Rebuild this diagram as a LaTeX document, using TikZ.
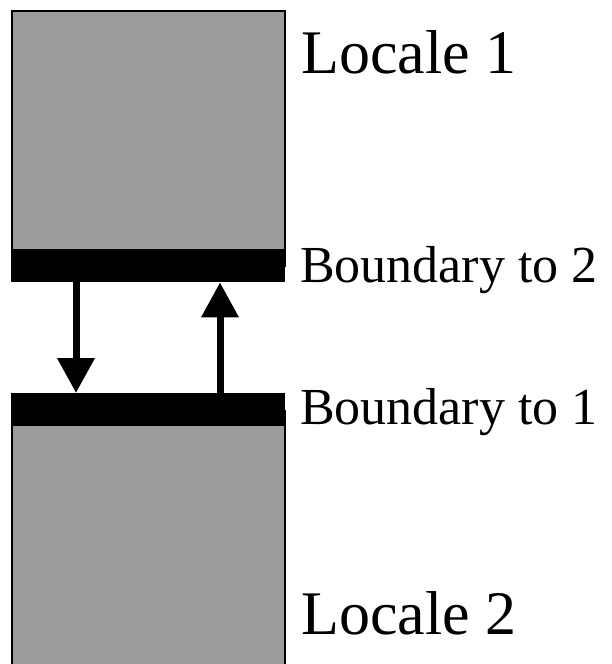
\documentclass[tikz,border=0pt]{standalone}
\usepackage{fontspec}
\setmainfont{Liberation Serif}
\usetikzlibrary{arrows.meta}
\definecolor{localegray}{RGB}{156,156,156}
\tikzstyle{locale}=[rectangle,draw=black,fill=localegray,line width=1.5pt,minimum width=273pt,inner sep=0pt,anchor=north west]
\tikzstyle{boundary}=[rectangle,fill=black,minimum width=274pt,minimum height=33pt,inner sep=0pt,anchor=north west]
\tikzstyle{crossing}=[draw,line width=7pt,-{Triangle[width=36pt,length=35pt]}]
\tikzstyle{big label}=[font=\fontsize{62}{62}\selectfont,anchor=base west,inner sep=0pt]
\tikzstyle{small label}=[font=\fontsize{52}{52}\selectfont,anchor=base west,inner sep=0pt]

\begin{document}
\begin{tikzpicture}[x=1pt,y=-1pt]
  \useasboundingbox (0,0) rectangle (612,664);
    % The two locales, each with its boundary bar
    \node[locale,minimum height=255pt] (locale1) at (11,10) {};
    \node[locale,minimum height=270pt] (locale2) at (11,410) {};
    \node[boundary] (bound2) at (11,249) {};
    \node[boundary] (bound1) at (11,393) {};
    % Crossings between the boundaries
    \path[crossing] ([xshift=65pt]bound2.south west) -- ([xshift=65pt]bound1.north west);
    \path[crossing] ([xshift=209pt]bound1.north west) -- ([xshift=209pt]bound2.south west);
    % Labels
    \node[big label] (name1) at (301,73) {Locale 1};
    \node[small label] (bname2) at (300,282) {Boundary to 2};
    \node[small label] (bname1) at (300,424) {Boundary to 1};
    \node[big label] (name2) at (301,634) {Locale 2};
\end{tikzpicture}
\end{document}
